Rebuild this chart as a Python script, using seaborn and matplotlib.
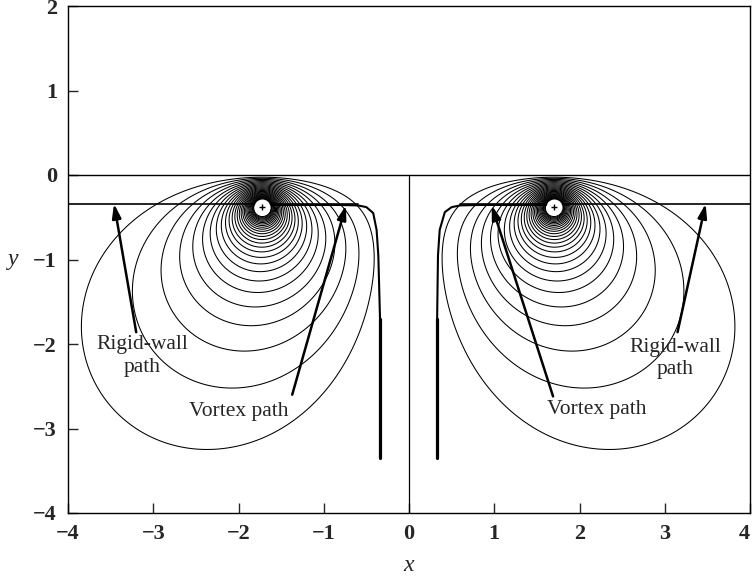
import numpy as np
import matplotlib
matplotlib.use("Agg")
import matplotlib.pyplot as plt
import seaborn as sns
import pandas as pd

# ---- data ----
vortex_x = [-1.72, 1.70]
vortex_y = [-0.38, -0.38]
# stream-function levels around the left vortex (right one uses the opposite sign)
psi_levels = [-0.135, -0.205, -0.275, -0.345, -0.415, -0.485, -0.555, -0.625,
              -0.695, -0.765, -0.835, -0.905, -0.975, -1.045, -1.115, -1.185,
              -1.255, -1.325, -1.395, -1.465, -1.535, -1.605, -1.675, -1.745,
              -1.815, -1.885, -1.955, -2.025]

vpath_left_x = [-0.34, -0.34, -0.36, -0.38, -0.42, -0.50, -0.60, -0.80, -1.20, -1.72]
vpath_left_y = [-3.35, -1.70, -0.95, -0.65, -0.45, -0.38, -0.36, -0.355, -0.355, -0.355]
vpath_right_x = [0.33, 0.33, 0.34, 0.36, 0.42, 0.50, 0.60, 0.80, 1.20, 1.70]
vpath_right_y = [-3.35, -1.70, -0.95, -0.65, -0.44, -0.38, -0.36, -0.355, -0.355, -0.355]

rigid_left_x = [-4.0, -0.60]
rigid_right_x = [0.60, 4.0]
rigid_y = -0.34

labels = ["Rigid-wall\npath", "Vortex path", "Vortex path", "Rigid-wall\npath"]
label_x = [-3.13, -2.00, 2.20, 3.12]
label_y = [-2.14, -2.80, -2.78, -2.17]
arrow_tail_x = [-3.20, -1.37, 1.69, 3.15]
arrow_tail_y = [-1.86, -2.60, -2.62, -1.86]
arrow_tip_x = [-3.46, -0.74, 0.97, 3.48]
arrow_tip_y = [-0.34, -0.36, -0.36, -0.34]

xticks = [-4, -3, -2, -1, 0, 1, 2, 3, 4]
yticks = [-4, -3, -2, -1, 0, 1, 2]

# ---- figure ----
sns.set_theme(style="ticks")
plt.rcParams['font.family'] = ['Liberation Serif', 'DejaVu Serif']

fig = plt.figure(figsize=(7.52, 5.77), dpi=100)
ax = fig.add_axes([68 / 752, 1 - 513 / 577, (750 - 68) / 752, (513 - 6) / 577])

# stream function of the vortex pair with its images in the surface y = 0
xg = np.linspace(-4, 4, 1601)
yg = np.linspace(-4, 0, 801)
X, Y = np.meshgrid(xg, yg)
def lr(x0, y0):
    return 0.5 * np.log((X - x0) ** 2 + (Y - y0) ** 2)
psi = (lr(vortex_x[0], vortex_y[0]) - lr(vortex_x[0], -vortex_y[0])
       - lr(vortex_x[1], vortex_y[1]) + lr(vortex_x[1], -vortex_y[1]))
levels = sorted(psi_levels + [-v for v in psi_levels])
ax.contour(X, Y, psi, levels=levels, colors="black", linewidths=0.75,
           linestyles="solid")

# white core with '+' at each vortex
ax.scatter(vortex_x, vortex_y, s=110, c="white", edgecolors="white", zorder=3)
ax.scatter(vortex_x, vortex_y, s=25, marker="+", c="black", linewidths=1.0, zorder=4)

# surface and symmetry line
ax.axhline(0, color="black", lw=1.0)
ax.plot([0, 0], [-4, 0], color="black", lw=0.9)

# rigid-wall paths
df_rw = pd.DataFrame({"x": rigid_left_x + rigid_right_x,
                      "y": [rigid_y] * 4,
                      "side": ["L", "L", "R", "R"]})
sns.lineplot(data=df_rw, x="x", y="y", units="side", estimator=None,
             color="black", lw=1.2, ax=ax, sort=False)

# vortex paths
df_vp = pd.DataFrame({"x": vpath_left_x + vpath_right_x,
                      "y": vpath_left_y + vpath_right_y,
                      "side": ["L"] * len(vpath_left_x) + ["R"] * len(vpath_right_x)})
sns.lineplot(data=df_vp, x="x", y="y", units="side", estimator=None,
             color="black", lw=1.5, ax=ax, sort=False)
# heavier lower straight part of each vortex path
df_vp_low = pd.DataFrame({"x": vpath_left_x[:2] + vpath_right_x[:2],
                          "y": vpath_left_y[:2] + vpath_right_y[:2],
                          "side": ["L", "L", "R", "R"]})
sns.lineplot(data=df_vp_low, x="x", y="y", units="side", estimator=None,
             color="black", lw=2.3, ax=ax, sort=False)

# annotations
for t, lx, ly, tx, ty, hx, hy in zip(labels, label_x, label_y, arrow_tail_x,
                                      arrow_tail_y, arrow_tip_x, arrow_tip_y):
    ax.text(lx, ly, t, ha="center", va="center", fontsize=15.5,
            linespacing=1.25, zorder=6)
    ax.annotate("", xy=(hx, hy), xytext=(tx, ty),
                arrowprops=dict(arrowstyle="-|>,head_length=0.7,head_width=0.22",
                                color="black", lw=1.8, shrinkA=0, shrinkB=0),
                zorder=6)

ax.set_xlim(-4, 4)
ax.set_ylim(-4, 2)
ax.set_xticks(xticks)
ax.set_yticks(yticks)
ax.set_xticklabels([f"\u2212{abs(v)}" if v < 0 else str(v) for v in xticks],
                   fontsize=16, fontweight="bold")
ax.set_yticklabels([f"\u2212{abs(v)}" if v < 0 else str(v) for v in yticks],
                   fontsize=16, fontweight="bold")
ax.get_xticklabels()[-1].set_horizontalalignment("right")
ax.tick_params(direction="in", length=7, width=1.0, pad=8)
for s in ax.spines.values():
    s.set_visible(True)
    s.set_linewidth(1.0)
    s.set_color("black")
ax.set_xlabel("x", fontsize=17, fontstyle="italic", labelpad=8)
ax.set_ylabel("y", fontsize=17, fontstyle="italic", rotation=0, labelpad=14,
              va="center")

fig.savefig("out.png", dpi=100)
